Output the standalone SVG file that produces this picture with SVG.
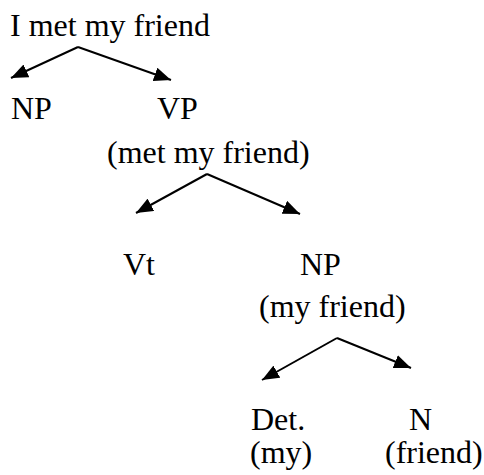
<svg xmlns="http://www.w3.org/2000/svg" width="484" height="475" viewBox="0 0 484 475">
<style>
text{font-family:"Liberation Serif","Times New Roman",serif;font-size:32px;fill:#000}
.e{fill:none;stroke:#000;stroke-width:2}
</style>
<defs>
<marker id="ah" markerWidth="17" markerHeight="14" refX="17" refY="7" orient="auto" markerUnits="userSpaceOnUse">
<path d="M0,0 L17,7 L0,14 Z" fill="#000"/>
</marker>
</defs>
<rect width="484" height="475" fill="#fff"/>
<g id="connectors">
<line class="e" x1="78" y1="47" x2="11" y2="78" marker-end="url(#ah)"/>
<line class="e" x1="78" y1="47" x2="171" y2="80" marker-end="url(#ah)"/>
<line class="e" x1="207" y1="174" x2="136" y2="213" marker-end="url(#ah)"/>
<line class="e" x1="207" y1="174" x2="300" y2="214" marker-end="url(#ah)"/>
<line class="e" x1="337" y1="338" x2="262" y2="380" marker-end="url(#ah)"/>
<line class="e" x1="337" y1="338" x2="411" y2="368" marker-end="url(#ah)"/>
</g>
<g id="s"><text x="10" y="36">I met my friend</text></g>
<g id="np1"><text x="11" y="119">NP</text></g>
<g id="vp"><text x="157" y="119">VP</text><text x="107" y="163">(met my friend)</text></g>
<g id="vt"><text x="123" y="275">Vt</text></g>
<g id="np2"><text x="300" y="275">NP</text><text x="259" y="317">(my friend)</text></g>
<g id="det"><text x="251" y="430">Det.</text><text x="250" y="463">(my)</text></g>
<g id="n"><text x="409" y="430">N</text><text x="385" y="463">(friend)</text></g>
</svg>
